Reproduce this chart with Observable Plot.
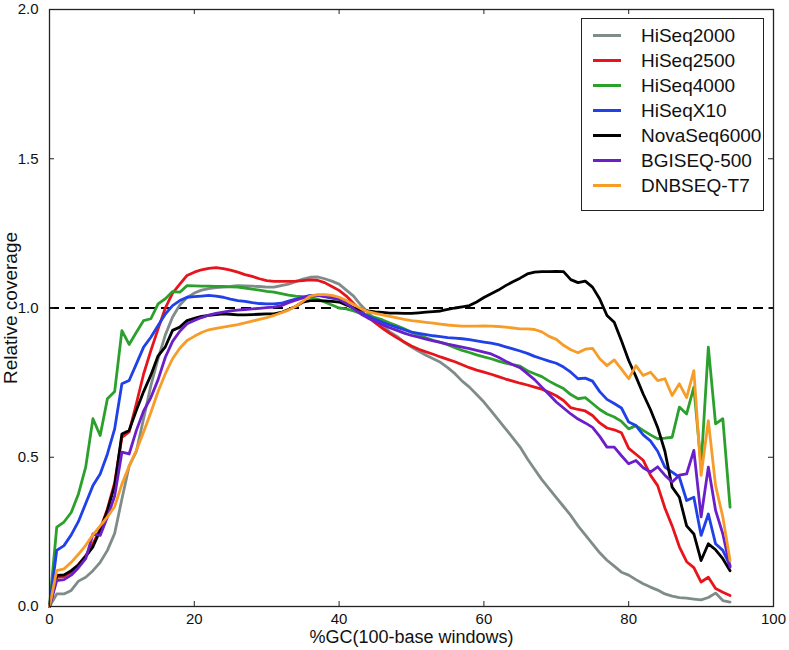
<!DOCTYPE html>
<html>
<head>
<meta charset="utf-8">
<script src="https://cdn.jsdelivr.net/npm/d3@7"></script>
<script src="https://cdn.jsdelivr.net/npm/@observablehq/plot@0.6"></script>
<style>
  html, body { margin: 0; padding: 0; background: #fff; }
  #wrap { position: relative; width: 789px; height: 650px; font-family: "Liberation Sans", Arial, sans-serif; }
  #legend { position: absolute; left: 581px; top: 18px; width: 181px; height: 187px; border: 1px solid #222; background: #fff; padding-top: 4px; box-sizing: content-box; }
  .row { height: 25px; display: flex; align-items: center; font-size: 19px; color: #111; }
  .sw { width: 28px; height: 3px; margin-left: 11px; margin-right: 20px; }
</style>
</head>
<body>
<div id="wrap"></div>
<script>
// %GC of 100-base windows (x positions, 0..94)
const gc = Array.from({length: 95}, (_, i) => i);

const names = ["HiSeq2000", "HiSeq2500", "HiSeq4000", "HiSeqX10", "NovaSeq6000", "BGISEQ-500", "DNBSEQ-T7"];
const colors = ["#7f8c8a", "#e8141c", "#2ca02c", "#2040e8", "#000000", "#6b1fc8", "#f89c28"];

const hiseq2000 = [0.0,0.042,0.042,0.054,0.085,0.098,0.12,0.148,0.188,0.245,
  0.36,0.47,0.52,0.63,0.74,0.83,0.91,0.97,1.01,1.035,
  1.05,1.06,1.065,1.068,1.07,1.072,1.075,1.074,1.073,1.072,
  1.07,1.07,1.075,1.08,1.088,1.097,1.103,1.104,1.098,1.09,
  1.08,1.06,1.04,1.01,0.985,0.96,0.94,0.92,0.905,0.885,
  0.869,0.855,0.842,0.83,0.818,0.8,0.78,0.755,0.735,0.71,
  0.685,0.655,0.625,0.595,0.565,0.534,0.495,0.46,0.425,0.395,
  0.365,0.335,0.305,0.27,0.24,0.21,0.18,0.155,0.135,0.115,
  0.105,0.09,0.076,0.065,0.055,0.042,0.035,0.03,0.028,0.025,
  0.022,0.03,0.045,0.02,0.015];

const hiseq2500 = [0.0,0.098,0.1,0.115,0.14,0.17,0.21,0.26,0.327,0.415,
  0.567,0.585,0.68,0.779,0.857,0.93,1.0,1.05,1.08,1.109,
  1.12,1.128,1.133,1.135,1.132,1.127,1.12,1.112,1.106,1.098,
  1.092,1.089,1.089,1.089,1.09,1.092,1.094,1.093,1.085,1.072,
  1.059,1.04,1.015,0.99,0.97,0.95,0.932,0.915,0.9,0.886,
  0.873,0.862,0.853,0.845,0.836,0.828,0.82,0.81,0.8,0.792,
  0.785,0.778,0.77,0.762,0.755,0.748,0.742,0.735,0.728,0.718,
  0.706,0.69,0.666,0.66,0.655,0.64,0.615,0.598,0.592,0.582,
  0.53,0.51,0.49,0.44,0.405,0.33,0.27,0.2,0.15,0.13,
  0.082,0.098,0.06,0.048,0.037];

const hiseq4000 = [0.0,0.266,0.283,0.315,0.377,0.467,0.629,0.573,0.696,0.72,
  0.924,0.878,0.919,0.958,0.964,1.014,1.031,1.055,1.053,1.075,
  1.074,1.073,1.073,1.072,1.072,1.071,1.07,1.067,1.063,1.06,
  1.056,1.053,1.048,1.043,1.04,1.038,1.036,1.03,1.02,1.01,
  1.0,0.997,0.99,0.982,0.975,0.968,0.96,0.95,0.94,0.93,
  0.919,0.91,0.9,0.892,0.885,0.877,0.867,0.858,0.851,0.843,
  0.836,0.83,0.822,0.815,0.81,0.805,0.79,0.78,0.77,0.755,
  0.742,0.73,0.71,0.696,0.7,0.68,0.66,0.645,0.635,0.62,
  0.595,0.606,0.59,0.575,0.562,0.564,0.567,0.668,0.645,0.735,
  0.47,0.869,0.612,0.629,0.333];

const hiseqX10 = [0.0,0.188,0.204,0.24,0.285,0.345,0.405,0.444,0.511,0.595,
  0.746,0.757,0.813,0.869,0.902,0.941,0.98,1.008,1.025,1.036,
  1.038,1.04,1.042,1.04,1.036,1.03,1.025,1.022,1.018,1.015,
  1.014,1.014,1.016,1.023,1.03,1.036,1.042,1.042,1.038,1.033,
  1.03,1.015,1.0,0.985,0.972,0.962,0.952,0.943,0.935,0.927,
  0.919,0.915,0.911,0.907,0.904,0.901,0.899,0.897,0.894,0.89,
  0.886,0.882,0.877,0.87,0.863,0.856,0.848,0.838,0.83,0.822,
  0.815,0.802,0.785,0.763,0.765,0.755,0.72,0.694,0.68,0.665,
  0.618,0.606,0.575,0.555,0.52,0.467,0.45,0.433,0.355,0.366,
  0.238,0.31,0.21,0.188,0.137];

const novaSeq6000 = [0.0,0.104,0.106,0.12,0.14,0.168,0.2,0.255,0.322,0.405,
  0.578,0.59,0.657,0.72,0.775,0.84,0.87,0.925,0.936,0.958,
  0.965,0.972,0.975,0.978,0.98,0.979,0.977,0.977,0.978,0.979,
  0.98,0.98,0.985,0.995,1.005,1.02,1.025,1.025,1.024,1.022,
  1.02,1.01,1.0,0.995,0.99,0.987,0.985,0.983,0.983,0.982,
  0.982,0.984,0.986,0.988,0.99,0.995,1.0,1.004,1.008,1.02,
  1.035,1.048,1.06,1.075,1.088,1.1,1.114,1.12,1.122,1.122,
  1.123,1.122,1.095,1.085,1.09,1.07,1.03,0.975,0.952,0.89,
  0.824,0.77,0.712,0.66,0.6,0.52,0.4,0.366,0.27,0.243,
  0.154,0.21,0.19,0.16,0.12];

const bgiseq500 = [0.0,0.087,0.09,0.105,0.13,0.16,0.243,0.238,0.3,0.37,
  0.517,0.511,0.59,0.655,0.7,0.76,0.835,0.888,0.922,0.947,
  0.958,0.968,0.976,0.982,0.986,0.99,0.993,0.995,0.997,0.999,
  1.001,1.003,1.008,1.018,1.026,1.034,1.04,1.042,1.04,1.035,
  1.03,1.015,0.998,0.98,0.966,0.955,0.944,0.934,0.925,0.916,
  0.908,0.902,0.896,0.89,0.885,0.879,0.874,0.869,0.864,0.858,
  0.852,0.846,0.835,0.822,0.81,0.8,0.78,0.76,0.735,0.71,
  0.685,0.665,0.645,0.628,0.615,0.6,0.57,0.534,0.534,0.505,
  0.478,0.489,0.465,0.45,0.468,0.44,0.417,0.44,0.444,0.523,
  0.3,0.467,0.322,0.243,0.132];

const dnbseqT7 = [0.0,0.12,0.126,0.148,0.175,0.205,0.24,0.27,0.3,0.335,
  0.41,0.47,0.523,0.585,0.65,0.72,0.78,0.83,0.865,0.891,
  0.905,0.918,0.927,0.932,0.936,0.94,0.944,0.95,0.956,0.962,
  0.968,0.975,0.984,0.993,1.005,1.022,1.04,1.045,1.045,1.042,
  1.036,1.025,1.012,0.998,0.988,0.982,0.977,0.972,0.967,0.962,
  0.958,0.955,0.952,0.949,0.946,0.943,0.941,0.939,0.939,0.939,
  0.94,0.939,0.938,0.936,0.933,0.93,0.93,0.928,0.92,0.905,
  0.895,0.875,0.86,0.85,0.862,0.865,0.83,0.807,0.826,0.795,
  0.763,0.807,0.774,0.785,0.757,0.763,0.707,0.746,0.7,0.79,
  0.439,0.623,0.405,0.3,0.154];

const xTicks = [0, 20, 40, 60, 80, 100];
const yTicks = [0, 0.5, 1.0, 1.5, 2.0];
const refLevel = [1.0];

const seriesValues = [hiseq2000, hiseq2500, hiseq4000, hiseqX10, novaSeq6000, bgiseq500, dnbseqT7];
const table = seriesValues.flatMap((vals, s) => vals.map((v, i) => ({series: names[s], gc: gc[i], cov: v})));

const W = 789, H = 650, mL = 49, mR = 16, mT = 9, mB = 44;
const innerW = W - mL - mR, innerH = H - mT - mB, tickLen = 5;

const chart = Plot.plot({
  width: W, height: H,
  marginLeft: mL, marginRight: mR, marginTop: mT, marginBottom: mB,
  style: {fontFamily: "'Liberation Sans', Arial, sans-serif", fontSize: "15px", color: "#111", background: "#fff"},
  x: {domain: [0, 100]},
  y: {domain: [0, 2]},
  color: {domain: names, range: colors},
  marks: [
    Plot.ruleY(refLevel, {stroke: "#000", strokeWidth: 2, strokeDasharray: "10,6"}),
    Plot.line(table, {x: "gc", y: "cov", z: "series", stroke: "series", strokeWidth: 2.8, strokeLinejoin: "round"}),
    Plot.frame({stroke: "#222", strokeWidth: 1.3}),
    Plot.tickX(xTicks, {x: d => d, insetTop: innerH - tickLen, stroke: "#222"}),
    Plot.tickX(xTicks, {x: d => d, insetBottom: innerH - tickLen, stroke: "#222"}),
    Plot.tickY(yTicks, {y: d => d, insetRight: innerW - tickLen, stroke: "#222"}),
    Plot.tickY(yTicks, {y: d => d, insetLeft: innerW - tickLen, stroke: "#222"}),
    Plot.axisX(xTicks, {tickSize: 0, tickPadding: 7, label: null, fontSize: 15}),
    Plot.axisY(yTicks, {tickSize: 0, tickPadding: 11, tickFormat: d3.format(".1f"), label: null, fontSize: 15}),
    Plot.text(["%GC(100-base windows)"], {frameAnchor: "bottom", dy: 31, lineAnchor: "middle", textAnchor: "middle", fontSize: 18, fill: "#111"}),
    Plot.text(["Relative coverage"], {frameAnchor: "left", dx: -39, rotate: -90, lineAnchor: "middle", textAnchor: "middle", fontSize: 19, fill: "#111"})
  ]
});

const wrap = document.getElementById("wrap");
wrap.appendChild(chart);

const legend = document.createElement("div");
legend.id = "legend";
names.forEach((n, i) => {
  const row = document.createElement("div");
  row.className = "row";
  const sw = document.createElement("span");
  sw.className = "sw";
  sw.style.background = colors[i];
  const t = document.createElement("span");
  t.textContent = n;
  row.appendChild(sw);
  row.appendChild(t);
  legend.appendChild(row);
});
wrap.appendChild(legend);
</script>
</body>
</html>
